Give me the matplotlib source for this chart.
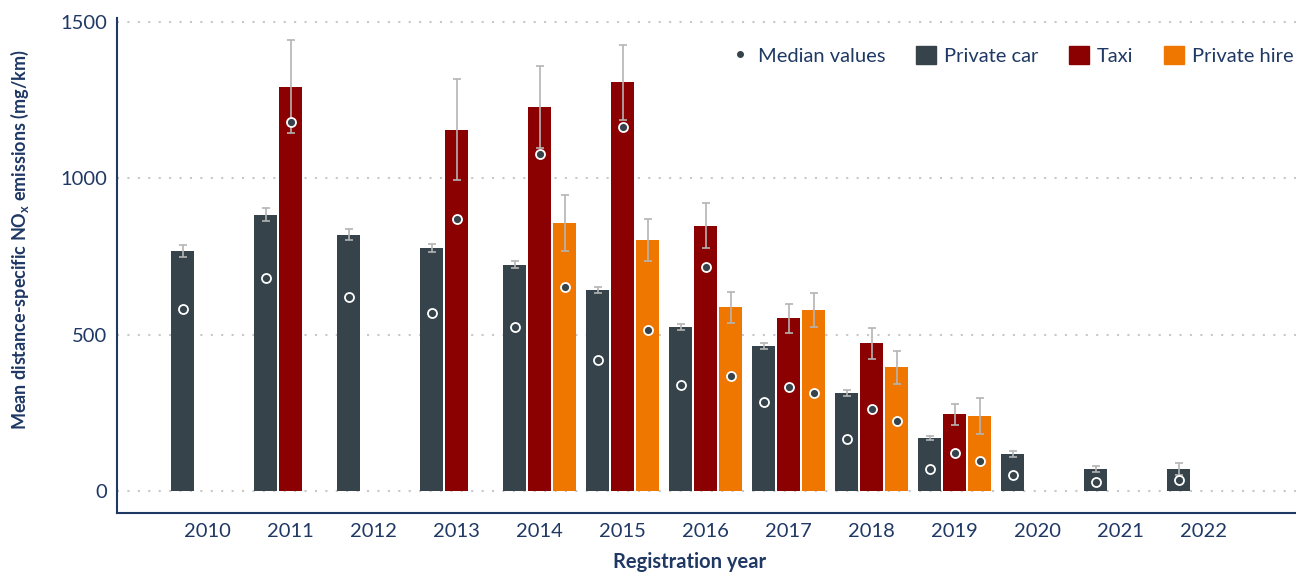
import matplotlib
matplotlib.use("Agg")
import matplotlib.pyplot as plt
import matplotlib.patches as mpatches
from matplotlib.lines import Line2D
import numpy as np

plt.rcParams["font.family"] = ["Lato", "DejaVu Sans"]

NAVY = "#1f3864"
CAR_C = "#36434b"
TAXI_C = "#8b0000"
HIRE_C = "#ef7700"
ERR_C = "#b4b4b4"

nan = np.nan
years = [2010, 2011, 2012, 2013, 2014, 2015, 2016, 2017, 2018, 2019, 2020, 2021, 2022]

# private car
car_mean = [767, 883, 819, 777, 723, 643, 524, 464, 313, 169, 118, 70, 70]
car_lo   = [748, 864, 803, 764, 712, 634, 515, 454, 305, 163, 110, 60, 50]
car_hi   = [787, 904, 838, 791, 736, 653, 536, 475, 324, 177, 128, 79, 91]
car_med  = [583, 682, 621, 570, 525, 418, 339, 284, 168, 70, 52, 28, 37]

# taxi
taxi_mean = [nan, 1292, nan, 1154, 1228, 1308, 847, 553, 473, 246, nan, nan, nan]
taxi_lo   = [nan, 1144, nan, 994, 1097, 1186, 777, 506, 421, 210, nan, nan, nan]
taxi_hi   = [nan, 1442, nan, 1318, 1361, 1428, 920, 599, 522, 280, nan, nan, nan]
taxi_med  = [nan, 1181, nan, 869, 1079, 1163, 716, 332, 263, 122, nan, nan, nan]

# private hire
hire_mean = [nan, nan, nan, nan, 857, 803, 588, 579, 397, 240, nan, nan, nan]
hire_lo   = [nan, nan, nan, nan, 767, 736, 538, 524, 341, 183, nan, nan, nan]
hire_hi   = [nan, nan, nan, nan, 948, 869, 636, 634, 449, 298, nan, nan, nan]
hire_med  = [nan, nan, nan, nan, 653, 514, 368, 314, 223, 96, nan, nan, nan]

series = [
    ("Private car", CAR_C, -0.301, car_mean, car_lo, car_hi, car_med),
    ("Taxi", TAXI_C, 0.0, taxi_mean, taxi_lo, taxi_hi, taxi_med),
    ("Private hire", HIRE_C, 0.301, hire_mean, hire_lo, hire_hi, hire_med),
]

fig = plt.figure(figsize=(12.96, 5.75), dpi=100)
ax = fig.add_axes([0.0903, 0.1078, 0.9097, 0.8609])

x = np.array(years, dtype=float)
w = 0.277

for label, color, off, mean, lo, hi, med in series:
    mean = np.array(mean, dtype=float)
    lo = np.array(lo, dtype=float)
    hi = np.array(hi, dtype=float)
    med = np.array(med, dtype=float)
    ok = ~np.isnan(mean)
    xs = x[ok] + off
    ax.bar(xs, mean[ok], width=w, color=color, zorder=2)
    ax.errorbar(xs, mean[ok], yerr=[mean[ok] - lo[ok], hi[ok] - mean[ok]],
                fmt="none", ecolor=ERR_C, elinewidth=1.2, capsize=3.2,
                capthick=1.2, zorder=3)
    ax.plot(xs, med[ok], linestyle="", marker="o", markersize=6.5,
            markerfacecolor=CAR_C, markeredgecolor="white",
            markeredgewidth=1.3, zorder=4)

ax.set_xlim(2008.91, 2023.11)
ax.set_ylim(-70, 1513)
ax.set_xticks(years)
ax.set_xticklabels([str(y) for y in years])
ax.set_yticks([0, 500, 1000, 1500])
ax.tick_params(axis="both", length=0, labelsize=14.5, colors=NAVY, pad=7)
ax.tick_params(axis="x", pad=7)

for yv in [0, 500, 1000, 1500]:
    ax.axhline(yv, color="#c8c8c8", linewidth=1.5, linestyle=(0, (1, 4)),
               zorder=1)

for s in ["top", "right"]:
    ax.spines[s].set_visible(False)
for s in ["left", "bottom"]:
    ax.spines[s].set_color(NAVY)
    ax.spines[s].set_linewidth(1.5)

fig.text(0.0154, 0.5826, "Mean distance-specific NO$_\\mathregular{x}$ emissions (mg/km)",
         rotation=90, ha="center", va="center", fontsize=13,
         fontweight="bold", color=NAVY)
fig.text(0.532, 0.006, "Registration year", ha="center", va="bottom",
         fontsize=14.5, fontweight="bold", color=NAVY)

handles = [
    Line2D([], [], linestyle="", marker="o", markersize=4, color=CAR_C),
    mpatches.Patch(color=CAR_C),
    mpatches.Patch(color=TAXI_C),
    mpatches.Patch(color=HIRE_C),
]
labels = ["Median values", "Private car", "Taxi", "Private hire"]
leg = ax.legend(handles, labels, loc="center right", bbox_to_anchor=(0.998, 0.925),
                ncol=4, frameon=False, fontsize=14.5, handlelength=1.0,
                handleheight=1.0, handletextpad=0.4, columnspacing=1.5,
                borderaxespad=0, borderpad=0)
for t in leg.get_texts():
    t.set_color(NAVY)

fig.savefig("out.png", dpi=100)
